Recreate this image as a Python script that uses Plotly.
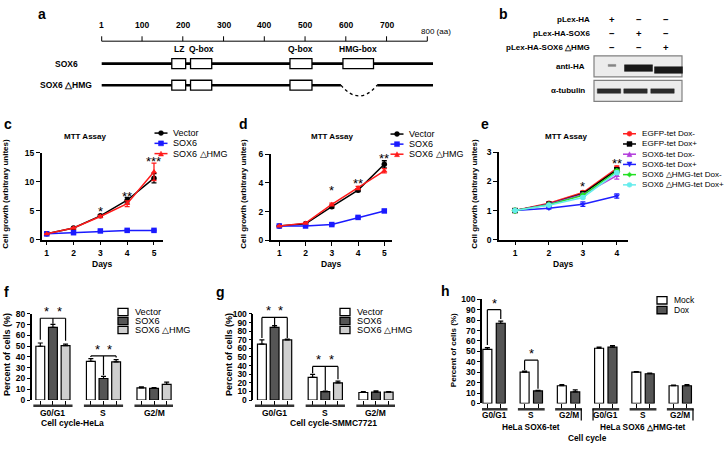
import plotly.graph_objects as go

W, H = 728, 449
FONT = "Liberation Sans"


def px(x):
    return x / W


def py(y):
    return 1 - y / H


def dom_x(a, b):
    return [a / W, b / W]


def dom_y(top, bottom):
    return [1 - bottom / H, 1 - top / H]


# ---------------- data ----------------
# a: SOX6 protein map (amino acids)
aa_ticks = [1, 100, 200, 300, 400, 500, 600, 700, 800]
protein_len = 814
constructs = ["SOX6", "SOX6 △HMG"]
domain_names = ["LZ", "Q-box", "Q-box", "HMG-box"]
domain_start = [173, 219, 463, 593]
domain_end = [207, 271, 517, 668]
hmg_deletion = [588, 677]

# b: western blot
plasmids = ["pLex-HA", "pLex-HA-SOX6", "pLex-HA-SOX6 △HMG"]
lane_signs = [["+", "−", "−"], ["−", "+", "−"], ["−", "−", "+"]]
blot_rows = ["anti-HA", "α-tubulin"]
band_level = [[0.15, 1.0, 1.0], [0.85, 0.85, 0.85]]

# c, d: MTT assay over 5 days
days5 = [1, 2, 3, 4, 5]
mtt_names = ["Vector", "SOX6", "SOX6 △HMG"]
c_vals = [[1.0, 2.0, 4.1, 6.8, 10.6],
          [1.0, 1.2, 1.5, 1.6, 1.6],
          [1.0, 2.0, 4.0, 6.2, 11.7]]
c_err = [[0.05, 0.1, 0.2, 0.5, 0.8],
         [0.05, 0.1, 0.1, 0.1, 0.1],
         [0.05, 0.1, 0.2, 0.5, 1.5]]
c_stars = ["", "", "*", "**", "***"]
c_star_y = [0, 0, 5.4, 8.0, 14.0]

d_vals = [[1.0, 1.15, 2.35, 3.5, 5.3],
          [1.0, 1.0, 1.1, 1.6, 2.05],
          [1.0, 1.2, 2.5, 3.65, 4.85]]
d_err = [[0.03, 0.05, 0.1, 0.1, 0.25],
         [0.03, 0.03, 0.05, 0.05, 0.05],
         [0.03, 0.05, 0.1, 0.12, 0.15]]
d_stars = ["", "", "*", "**", "**"]
d_star_y = [0, 0, 3.7, 4.2, 5.95]

# e: MTT assay, tet-inducible lines, 4 days
days4 = [1, 2, 3, 4]
e_names = ["EGFP-tet Dox-", "EGFP-tet Dox+", "SOX6-tet Dox-", "SOX6-tet Dox+",
           "SOX6 △HMG-tet Dox-", "SOX6 △HMG-tet Dox+"]
e_vals = [[1.0, 1.25, 1.62, 2.45],
          [1.0, 1.22, 1.58, 2.40],
          [1.0, 1.22, 1.55, 2.20],
          [1.0, 1.08, 1.22, 1.50],
          [1.0, 1.20, 1.52, 2.35],
          [1.0, 1.18, 1.45, 2.30]]
e_err = [[0.02, 0.04, 0.05, 0.08],
         [0.02, 0.03, 0.04, 0.06],
         [0.02, 0.03, 0.05, 0.12],
         [0.02, 0.03, 0.08, 0.07],
         [0.02, 0.03, 0.04, 0.06],
         [0.02, 0.03, 0.04, 0.05]]
e_stars = ["", "", "*", "**"]
e_star_y = [0, 0, 1.92, 2.72]

# f, g: cell cycle distribution
phases = ["G0/G1", "S", "G2/M"]
f_vals = [[50, 36, 11.3], [67.5, 20, 10.8], [50.6, 35.5, 14.5]]
f_err = [[3.0, 2.4, 0.9], [2.9, 2.0, 0.8], [1.4, 2.0, 2.1]]
f_sig_group = [0, 1]
f_sig_top = [76, 41]
f_sig_legs = [[56, 71, 55], [40, 23, 39.5]]

g_vals = [[65, 26.2, 8.7], [84.4, 9.8, 9.1], [69.8, 20, 9.1]]
g_err = [[4.8, 3.5, 1.2], [2.0, 0.6, 1.5], [1.0, 2.0, 0.6]]
g_sig_group = [0, 1]
g_sig_top = [96, 39]
g_sig_legs = [[72, 87, 72], [31, 11, 24]]

# h: tet-inducible lines, mock vs dox
h_sets = ["HeLa SOX6-tet", "HeLa SOX6 △HMG-tet"]
h_phases = phases + phases
h_names = ["Mock", "Dox"]
h_vals = [[52, 30, 17, 53, 30, 17], [77, 12, 11, 54, 28.5, 17]]
h_err = [[1.5, 1.0, 1.0, 1.0, 0.6, 0.6], [2.0, 0.5, 2.0, 1.5, 0.6, 1.0]]
h_sig_group = [0, 1]
h_sig_top = [90, 41.5]
h_sig_legs = [[56, 81], [32, 14]]

# ---------------- styling ----------------
mtt_colors = ["#000000", "#1a1aff", "#ff1a1a"]
mtt_symbols = ["circle", "square", "triangle-up"]
e_colors = ["#ff2020", "#000000", "#b23cdc", "#2020ff", "#22e022", "#66ecec"]
e_symbols = ["circle", "square", "triangle-up", "triangle-down", "diamond", "circle"]
bar_fills = ["#ffffff", "#555555", "#cfcfcf"]
h_fills = ["#ffffff", "#555555"]

traces = []
shapes = []
annotations = []


def text(x, y, s, size=8.5, bold=True, anchor="center", angle=0, xref="paper",
         yref="paper", yshift=0):
    annotations.append(dict(
        x=px(x) if xref == "paper" else x, y=py(y) if yref == "paper" else y,
        xref=xref, yref=yref, text=s, showarrow=False, xanchor=anchor,
        yanchor="middle", textangle=angle, yshift=yshift,
        font=dict(family=FONT, size=size, color="black",
                  weight="bold" if bold else "normal")))


def star(x, y, s, xref, yref):
    annotations.append(dict(x=x, y=y, xref=xref, yref=yref, text=s, showarrow=False,
                            yanchor="bottom", yshift=-3,
                            font=dict(family=FONT, size=13, color="black")))


def pline(x0, y0, x1, y1, color="black", width=1.2, dash="solid"):
    shapes.append(dict(type="line", xref="paper", yref="paper", x0=px(x0), y0=py(y0),
                       x1=px(x1), y1=py(y1), line=dict(color=color, width=width, dash=dash)))


def prect(x0, y0, x1, y1, fill, line_color="black", width=1.0):
    shapes.append(dict(type="rect", xref="paper", yref="paper", x0=px(x0), y0=py(y1),
                       x1=px(x1), y1=py(y0), fillcolor=fill,
                       line=dict(color=line_color, width=width)))


def marker_key(sym, cx, cy, s, color):
    h = s / 2
    if sym == "circle":
        shapes.append(dict(type="circle", xref="paper", yref="paper", x0=px(cx - h),
                           x1=px(cx + h), y0=py(cy + h), y1=py(cy - h), fillcolor=color,
                           line=dict(color=color, width=0.5)))
        return
    if sym == "square":
        prect(cx - h, cy - h, cx + h, cy + h, color, color, 0.5)
        return
    pts = {"triangle-up": [(cx - h, cy + h), (cx + h, cy + h), (cx, cy - h)],
           "triangle-down": [(cx - h, cy - h), (cx + h, cy - h), (cx, cy + h)],
           "diamond": [(cx, cy - h), (cx + h, cy), (cx, cy + h), (cx - h, cy)]}[sym]
    path = "M " + " L ".join(f"{px(a):.5f},{py(b):.5f}" for a, b in pts) + " Z"
    shapes.append(dict(type="path", xref="paper", yref="paper", path=path,
                       fillcolor=color, line=dict(color=color, width=0.5)))


tick_font = dict(family=FONT, size=8.5, color="black", weight="bold")
layout_axes = {}


def line_axes(n, xd, yd, xr, yr, xt, yt):
    layout_axes[f"xaxis{n}"] = dict(
        domain=xd, range=xr, anchor=f"y{n}", tickvals=xt, showline=True,
        linecolor="black", linewidth=1.5, ticks="outside", ticklen=4, tickwidth=1.3,
        tickcolor="black", showgrid=False, zeroline=False, tickfont=tick_font)
    layout_axes[f"yaxis{n}"] = dict(
        domain=yd, range=yr, anchor=f"x{n}", tickvals=yt, showline=True,
        linecolor="black", linewidth=1.5, ticks="outside", ticklen=4, tickwidth=1.3,
        tickcolor="black", showgrid=False, zeroline=False, tickfont=tick_font)


# ---------------- panel a ----------------
k = (427.3 - 101.7) / 799
layout_axes["xaxis7"] = dict(domain=[0, 1], range=[1 - 101.7 / k, 1 + (W - 101.7) / k],
                             anchor="y7", visible=False, fixedrange=True)
layout_axes["yaxis7"] = dict(domain=dom_y(45, 100), range=[1 + 18 / 22, -15 / 22],
                             anchor="x7", visible=False)
for r, name in enumerate(constructs):
    keep = [i for i in range(len(domain_names)) if r == 0 or domain_names[i] != "HMG-box"]
    xs = [1]
    for i in keep:
        xs += [domain_start[i], None, domain_end[i]]
    if r == 1:
        xs += [hmg_deletion[0], None, hmg_deletion[1]]
    xs += [protein_len]
    traces.append(go.Scatter(x=xs, y=[r] * len(xs), mode="lines", xaxis="x7", yaxis="y7",
                             line=dict(color="black", width=2.6), hoverinfo="skip"))
    traces.append(go.Bar(orientation="h", base=[domain_start[i] for i in keep],
                         x=[domain_end[i] - domain_start[i] for i in keep], y=[r] * len(keep),
                         width=0.46, xaxis="x7", yaxis="y7",
                         marker=dict(color="white", line=dict(color="black", width=1.3))))
    text(66, 60 + 22 * r, name, size=8.5)
mid = (hmg_deletion[0] + hmg_deletion[1]) / 2
shapes.append(dict(type="path", xref="x7", yref="y7",
                   path=f"M {hmg_deletion[0]},1 Q {mid},2 {hmg_deletion[1]},1",
                   line=dict(color="black", width=1.3, dash="dot")))
shapes.append(dict(type="line", xref="x7", yref="paper", x0=aa_ticks[0], x1=aa_ticks[-1],
                   y0=py(37), y1=py(37), line=dict(color="black", width=1)))
for t in aa_ticks:
    shapes.append(dict(type="line", xref="x7", yref="paper", x0=t, x1=t, y0=py(37),
                       y1=py(32), line=dict(color="black", width=1)))
    if t == aa_ticks[-1]:
        annotations.append(dict(x=t, y=py(20), xref="x7", yref="paper", text=f"{t} (aa)",
                                showarrow=False, xanchor="left", xshift=-8,
                                font=dict(family=FONT, size=8, color="black")))
    else:
        text(t, 20, str(t), size=8.5, xref="x7")
for i, name in enumerate(domain_names):
    text((domain_start[i] + domain_end[i]) / 2, 44.5, name, size=8.5, xref="x7")
text(42, 9, "a", size=14)

# ---------------- panel b ----------------
text(503, 9, "b", size=14)
lane_x = [612, 638.5, 665.5]
for r, name in enumerate(plasmids):
    yy = 15 + 14.3 * r
    text(591.5, yy, name, size=8, anchor="right")
    for j, s in enumerate(lane_signs[r]):
        text(lane_x[j], yy, s, size=9.5)
blot_box = [(52, 73.5), (77, 98.5)]
for b, name in enumerate(blot_rows):
    y0, y1 = blot_box[b]
    prect(594, y0, 682, y1, "#ececec", "#808080", 1.2)
    text(587, (y0 + y1) / 2, name, size=8, anchor="right")
    for j, lvl in enumerate(band_level[b]):
        if b == 0:
            w = 4 + 24 * lvl
            hh = 1.2 + 5.5 * lvl
            cy = 62.5 + 2 * j * lvl if j else 61.8
            cx = lane_x[j] + (3 if j == 2 else 0)
        else:
            w = 24 * lvl + 3
            hh = 4.5
            cy = 88
            cx = lane_x[j] - 3
        shade = "#%02x%02x%02x" % ((int(150 - 125 * lvl),) * 3)
        prect(cx - w / 2, cy - hh / 2, cx + w / 2, cy + hh / 2, shade, shade, 0.5)


# ---------------- panels c, d, e ----------------
def mtt_panel(n, days, vals, errs, names, colors, symbols, stars, star_y, xd, yd, xr, yr,
              yt, letter, letter_x, title_x, ytitle_x, leg_x, leg_rows, leg_size):
    line_axes(n, xd, yd, xr, yr, days, yt)
    for v, e, c, s in zip(vals, errs, colors, symbols):
        traces.append(go.Scatter(
            x=days, y=v, mode="lines+markers", xaxis=f"x{n}", yaxis=f"y{n}",
            cliponaxis=False, line=dict(color=c, width=1.5),
            marker=dict(symbol=s, size=5.5, color=c),
            error_y=dict(type="data", array=e, color=c, thickness=1.3, width=2.5)))
    for d, st, sy in zip(days, stars, star_y):
        if st:
            annotations.append(dict(x=d, y=sy, xref=f"x{n}", yref=f"y{n}", text=st,
                                    showarrow=False, yanchor="middle", yshift=-3,
                                    font=dict(family=FONT, size=13, color="black")))
    text(letter_x, 122, letter, size=14)
    text(title_x, 135, "MTT Assay", size=8)
    text(ytitle_x, 193, "Cell growth (arbitrary unites)", size=8, angle=-90)
    text((xd[0] + xd[1]) / 2 * W, 265, "Days", size=8.5)
    for i, (nm, c, s) in enumerate(zip(names, colors, symbols)):
        yy = leg_rows[0] + i * leg_rows[1]
        pline(leg_x - 6.5, yy, leg_x + 6.5, yy, c, 1.5)
        marker_key(s, leg_x, yy, 5, c)
        text(leg_x + 10, yy, nm, size=leg_size, bold=False, anchor="left")


mtt_panel(1, days5, c_vals, c_err, mtt_names, mtt_colors, mtt_symbols, c_stars, c_star_y,
          dom_x(41.7, 163), dom_y(151, 240), [0.813, 5.336], [0, 15], [0, 5, 10, 15],
          "c", 8, 85, 6, 161, (131, 10.5), 9)
mtt_panel(2, days5, d_vals, d_err, mtt_names, mtt_colors, mtt_symbols, d_stars, d_star_y,
          dom_x(270.7, 392), dom_y(152.7, 240.7), [0.672, 5.293], [0, 6], [0, 2, 4, 6],
          "d", 244, 331.7, 244, 397, (132, 10.3), 9)
mtt_panel(3, days4, e_vals, e_err, e_names, e_colors, e_symbols, e_stars, e_star_y,
          dom_x(499, 628), dom_y(150.7, 240), [0.528, 4.33], [0, 3], [0, 1, 2, 3],
          "e", 485, 566, 475, 629.5, (131.7, 10.45), 8.1)


# ---------------- panels f, g, h ----------------
def bar_panel(n, vals, errs, fills, labels, pitch, bar_w, seg_ext, xd, yd, xr, ymax,
              seg_y, lab_y, lab_size, sig_group, sig_top, sig_legs, star_pairs):
    ngroups = len(vals[0])
    nser = len(vals)
    pos = [[g * pitch + i for g in range(ngroups)] for i in range(nser)]
    layout_axes[f"xaxis{n}"] = dict(
        domain=xd, range=xr, anchor=f"y{n}", tickvals=sorted(sum(pos, [])),
        showticklabels=False, showline=False, ticks="outside", ticklen=5, tickwidth=1,
        tickcolor="black", showgrid=False, zeroline=False)
    layout_axes[f"yaxis{n}"] = dict(
        domain=yd, range=[0, ymax], anchor=f"x{n}", dtick=10, showline=True,
        linecolor="black", linewidth=1.5, ticks="outside", ticklen=3, tickwidth=1.2,
        tickcolor="black", showgrid=False, zeroline=False, tickfont=tick_font)
    for i in range(nser):
        traces.append(go.Bar(
            x=pos[i], y=vals[i], width=bar_w, xaxis=f"x{n}", yaxis=f"y{n}",
            cliponaxis=False, marker=dict(color=fills[i], line=dict(color="black", width=1.2)),
            error_y=dict(type="data", array=errs[i], arrayminus=[0] * ngroups,
                         symmetric=False, color="black", thickness=1.2, width=2.5)))
    for g in range(ngroups):
        shapes.append(dict(type="line", xref=f"x{n}", yref="paper",
                           x0=pos[0][g] - seg_ext, x1=pos[-1][g] + seg_ext,
                           y0=py(seg_y), y1=py(seg_y), line=dict(color="#333333", width=2.5)))
        text(g * pitch + (nser - 1) / 2, lab_y, labels[g], size=lab_size, xref=f"x{n}")
    for g, top, legs in zip(sig_group, sig_top, sig_legs):
        xs = [pos[i][g] for i in range(nser)]
        shapes.append(dict(type="line", xref=f"x{n}", yref=f"y{n}", x0=xs[0], x1=xs[-1],
                           y0=top, y1=top, line=dict(color="black", width=1.2)))
        for x, lg in zip(xs, legs):
            shapes.append(dict(type="line", xref=f"x{n}", yref=f"y{n}", x0=x, x1=x,
                               y0=top, y1=lg, line=dict(color="black", width=1.2)))
        for a, b in star_pairs:
            star((xs[a] + xs[b]) / 2, top, "*", f"x{n}", f"y{n}")
    return pos


def legend_boxes(x, rows, names, fills, size):
    for i, (nm, c) in enumerate(zip(names, fills)):
        yy = rows[0] + i * rows[1]
        prect(x - 5, yy - 3.8, x + 5, yy + 3.8, c, "black", 1.3)
        text(x + 10, yy, nm, size=size, bold=False, anchor="left")


bar_panel(4, f_vals, f_err, bar_fills, phases, 4, 0.7, 0.55, dom_x(31.7, 173),
          dom_y(316, 404), [-0.68, 10.5], 80, 410, 417, 8.5, f_sig_group, f_sig_top,
          f_sig_legs, [(0, 1), (1, 2)])
text(6, 294, "f", size=14)
text(7, 358, "Percent of cells (%)", size=9, angle=-90)
text(72, 428, "Cell cycle-HeLa", size=8.5)
legend_boxes(123, (314, 9.2), mtt_names, bar_fills, 9.2)

bar_panel(5, g_vals, g_err, bar_fills, phases, 4, 0.7, 0.55, dom_x(253.3, 395),
          dom_y(316, 404), [-0.68, 10.5], 100, 410, 417, 8.5, g_sig_group, g_sig_top,
          g_sig_legs, [(0, 1), (1, 2)])
text(220, 294, "g", size=14)
text(229, 358, "Percent of cells (%)", size=9, angle=-90)
text(333, 428, "Cell cycle-SMMC7721", size=8.5)
legend_boxes(345, (314, 9.2), mtt_names, bar_fills, 9.2)

h_pos = bar_panel(6, h_vals, h_err, h_fills, h_phases, 2.78, 0.67, 0.5, dom_x(482, 695),
                  dom_y(301, 407.5), [-0.4, 15.5], 100, 413.5, 419.5, 8.3, h_sig_group,
                  h_sig_top, h_sig_legs, [(0, 1)])
text(445, 293, "h", size=14)
text(453, 353, "Percent of cells (%)", size=8, angle=-90)
for s, name in enumerate(h_sets):
    first = h_pos[0][3 * s]
    last = h_pos[-1][3 * s + 2]
    for xv in (first - 0.45, last + 0.45):
        shapes.append(dict(type="line", xref="x6", yref="paper", x0=xv, x1=xv,
                           y0=py(413), y1=py(425), line=dict(color="black", width=1.2)))
    text((first + last) / 2, 432, name, size=8.3, xref="x6")
text((h_pos[0][0] + h_pos[-1][-1]) / 2, 443, "Cell cycle", size=8.3, xref="x6")
legend_boxes(662, (302, 10), h_names, h_fills, 8.5)

fig = go.Figure(data=traces)
fig.update_layout(
    width=W, height=H, margin=dict(l=0, r=0, t=0, b=0), autosize=False,
    paper_bgcolor="white", plot_bgcolor="white", showlegend=False, barmode="overlay",
    shapes=shapes, annotations=annotations, **layout_axes)
fig.update_layout(xaxis=layout_axes.pop("xaxis1"), yaxis=layout_axes.pop("yaxis1"))
# the page body has an 8px default margin; drop it so the figure fills the window
fig.write_html("out.html", config={"displayModeBar": False},
               post_script="document.body.style.margin = '0px';")
